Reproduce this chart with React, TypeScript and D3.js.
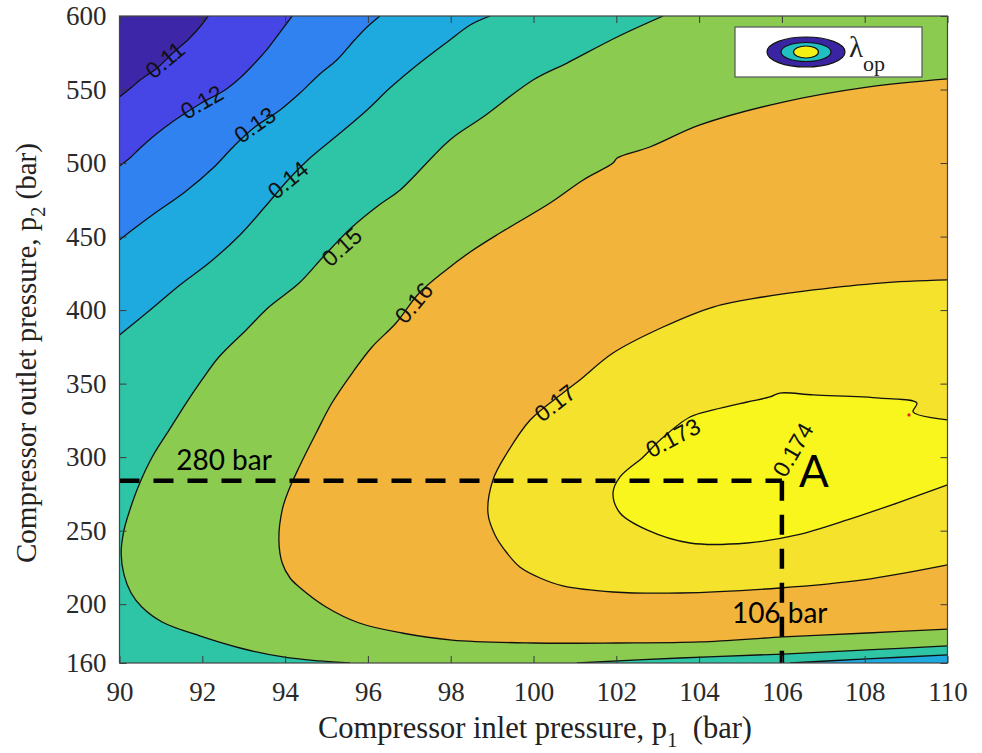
import React, { useEffect, useRef } from "react";
import * as d3 from "d3";

type Pt = [number, number];

// axis ticks
const xTicks = [90, 92, 94, 96, 98, 100, 102, 104, 106, 108, 110];
const yTicks = [160, 200, 250, 300, 350, 400, 450, 500, 550, 600];

// contour levels of lambda_op and the fill of each band (below 0.11, then above each level)
const levels = [0.11, 0.12, 0.13, 0.14, 0.15, 0.16, 0.17, 0.173];
const bandColors = [
  "#3e26a8",
  "#4646e6",
  "#2f82ef",
  "#1eaadf",
  "#2ec4a6",
  "#8bcb50",
  "#f2b43b",
  "#f4e22c",
  "#f8f61c",
];

// contour lines, as [p1 (bar), p2 (bar)]
const c011: Pt[] = [
  [90, 544.9], [90.3, 551.7], [90.5, 556.5], [90.91, 564.6], [91.29, 574.8],
  [91.65, 583.7], [91.94, 592.5], [92.14, 600],
];
const c012: Pt[] = [
  [90, 498], [90.25, 503.4], [90.5, 510.2], [90.86, 519.1], [91.34, 529.3],
  [91.94, 540.2], [92.55, 549.7], [92.91, 557.8], [93.27, 568.0], [93.59, 578.2],
  [93.88, 589.1], [94.17, 600],
];
const c013: Pt[] = [
  [90, 447.7], [90.37, 455.8], [90.86, 466.0], [91.58, 480.3], [92.26, 496.6],
  [92.79, 512.3], [93.27, 524.5], [93.88, 536.1], [94.36, 547.6], [94.84, 560.6],
  [95.25, 570.1], [95.68, 583.7], [95.98, 592.5], [96.29, 600],
];
const c014: Pt[] = [
  [90, 383.1], [90.74, 400.1], [91.46, 417.1], [92.19, 432.7], [92.91, 451.1],
  [93.51, 470.1], [94.07, 488.5], [94.6, 503.4], [95.33, 520.4], [95.98, 536.1],
  [96.53, 551.0], [97.19, 566.7], [97.98, 583.7], [98.47, 593.9], [98.95, 600],
];
const c014Low: Pt[] = [[110, 165.5], [108.06, 162.8], [106.2, 160]];
const c015: Pt[] = [
  [103.13, 600], [102.02, 585.7], [100.81, 568.0], [99.99, 556.5], [98.78, 531.3],
  [97.98, 515.7], [96.78, 481.7], [96.27, 471.5], [95.62, 456.5], [94.96, 437.5],
  [94.34, 418.4], [93.61, 402.1], [93.06, 386.5], [92.4, 368.1], [91.99, 352.5],
  [91.61, 336.8], [91.2, 318.5], [90.79, 300.1], [90.47, 281.1], [90.25, 264.1],
  [90.11, 250.5], [90.04, 234.8], [90.11, 219.9], [90.28, 207.6], [90.54, 198.1],
  [91.03, 187.9], [91.94, 178.4], [92.91, 170.2], [93.95, 164.1], [94.84, 161.4],
  [95.57, 160],
];
const c015Low: Pt[] = [
  [101.05, 160], [103.54, 163.4], [106.03, 166.1], [108.06, 168.9], [110, 171.6],
];
const c016: Pt[] = [
  [110, 557.2], [108.06, 551.7], [106.03, 541.5], [104.02, 525.9], [102.81, 510.9],
  [102.02, 503.4], [101.92, 500.0], [101.2, 488.5], [100.4, 472.8], [99.19, 452.4],
  [98.47, 439.5], [97.89, 427.3], [97.24, 411.6], [96.68, 391.2], [96.1, 374.9],
  [95.62, 357.2], [95.13, 336.8], [94.75, 316.4], [94.34, 293.3], [94.09, 277.7],
  [93.93, 264.1], [93.85, 243.7], [93.93, 228.0], [94.12, 217.8], [94.34, 211.7],
  [94.99, 198.1], [95.79, 187.2], [96.82, 180.4], [98.03, 175.6], [99.99, 173.6],
  [102.02, 173.6], [104.02, 174.3], [106.03, 177.7], [108.06, 180.4], [110, 183.1],
];
const c017: Pt[] = [
  [110, 420.5], [108.37, 418.4], [106.76, 413.7], [105.54, 408.9], [104.34, 402.1],
  [103.13, 388.5], [101.92, 370.8], [101.12, 352.5], [100.71, 343.6], [99.92, 325.3],
  [99.36, 302.8], [99.02, 284.5], [98.9, 262.0], [99.07, 247.1], [99.36, 234.8],
  [99.67, 225.3], [100.16, 217.8], [100.71, 212.4], [101.92, 208.3], [103.54, 207.6],
  [105.95, 211.0], [107.96, 216.5], [110, 226.7],
];
const c0173: Pt[] = [
  [110, 325.3], [109.17, 330.7], [109.26, 336.8], [108.37, 340.2], [106.76, 342.3],
  [105.95, 343.6], [105.71, 340.9], [105.16, 337.5], [104.34, 332.1], [103.78, 327.3],
  [103.06, 311.7], [102.65, 300.1], [102.09, 286.5], [101.92, 275.6], [102.09, 262.0],
  [102.74, 250.5], [103.78, 241.6], [105.16, 241.6], [106.37, 247.1], [107.58, 257.3],
  [108.78, 268.8], [110, 281.1],
];

// inline contour labels (anchor in data units)
const contourLabels = [
  { text: "0.11", p1: 91.1, p2: 570.1, angle: -40 },
  { text: "0.12", p1: 91.99, p2: 541.5, angle: -30 },
  { text: "0.13", p1: 93.27, p2: 525.9, angle: -35 },
  { text: "0.14", p1: 94.07, p2: 488.5, angle: -40 },
  { text: "0.15", p1: 95.37, p2: 442.9, angle: -42 },
  { text: "0.16", p1: 97.11, p2: 404.8, angle: -50 },
  { text: "0.17", p1: 100.52, p2: 336.8, angle: -38 },
  { text: "0.173", p1: 103.37, p2: 313.0, angle: -28 },
  { text: "0.174", p1: 106.27, p2: 304.9, angle: -60 },
];

// design point A
const pointA = { p1: 106, p2: 284 };
const redDot = { p1: 109.07, p2: 328.7 };

const W = 982;
const H = 753;
const margin = { top: 16, right: 34.5, bottom: 90, left: 119.5 };

export default function App() {
  const svgRef = useRef<SVGSVGElement>(null);

  useEffect(() => {
    const svg = d3.select(svgRef.current);
    svg.selectAll("*").remove();

    const x = d3.scaleLinear().domain([90, 110]).range([margin.left, W - margin.right]);
    const y = d3.scaleLinear().domain([160, 600]).range([H - margin.bottom, margin.top]);
    const [x0, x1] = x.range();
    const [y0, y1] = [y(600), y(160)];

    const curve = d3
      .line<Pt>()
      .x((d) => x(d[0]))
      .y((d) => y(d[1]))
      .curve(d3.curveCatmullRom.alpha(0.5));

    // join curve pieces and straight corners into one closed shape
    const shape = (pieces: (Pt[] | Pt)[]) => {
      let s = "";
      pieces.forEach((p, i) => {
        if (Array.isArray(p[0])) {
          const c = curve(p as Pt[]) || "";
          s += i === 0 ? c : "L" + c.slice(1);
        } else {
          const q = p as Pt;
          s += (i === 0 ? "M" : "L") + x(q[0]) + "," + y(q[1]);
        }
      });
      return s + "Z";
    };

    const TR: Pt = [110, 600];
    const BR: Pt = [110, 160];
    const BL: Pt = [90, 160];

    const regions = [
      shape([c011, TR, BR, BL]),
      shape([c012, TR, BR, BL]),
      shape([c013, TR, BR, BL]),
      shape([c014, TR, c014Low, BL]),
      shape([c015, c015Low, TR]),
      shape([c016]),
      shape([c017]),
      shape([c0173]),
    ];

    svg
      .append("defs")
      .append("clipPath")
      .attr("id", "plotClip")
      .append("rect")
      .attr("x", x0)
      .attr("y", y0)
      .attr("width", x1 - x0)
      .attr("height", y1 - y0);

    const plot = svg.append("g").attr("clip-path", "url(#plotClip)");

    plot
      .append("rect")
      .attr("x", x0)
      .attr("y", y0)
      .attr("width", x1 - x0)
      .attr("height", y1 - y0)
      .attr("fill", bandColors[0]);

    plot
      .selectAll("path.band")
      .data(regions)
      .enter()
      .append("path")
      .attr("class", "band")
      .attr("d", (d) => d)
      .attr("fill", (d, i) => bandColors[i + 1]);

    // contour lines
    plot
      .selectAll("path.iso")
      .data([c011, c012, c013, c014, c014Low, c015, c015Low, c016, c017, c0173])
      .enter()
      .append("path")
      .attr("class", "iso")
      .attr("d", (d) => curve(d))
      .attr("fill", "none")
      .attr("stroke", "#111")
      .attr("stroke-width", 1.3);

    plot
      .append("circle")
      .attr("cx", x(redDot.p1))
      .attr("cy", y(redDot.p2))
      .attr("r", 1.6)
      .attr("fill", "#e8202a");

    // contour labels
    plot
      .selectAll("text.lab")
      .data(contourLabels)
      .enter()
      .append("text")
      .attr("class", "lab")
      .attr("transform", (d) => `translate(${x(d.p1)},${y(d.p2)}) rotate(${d.angle})`)
      .attr("text-anchor", "middle")
      .attr("dominant-baseline", "central")
      .style("font-family", "'Liberation Sans', Arial, sans-serif")
      .style("font-size", "23px")
      .attr("fill", "#111")
      .text((d) => d.text);

    // dashed guide lines to point A
    const dash = "20,14";
    plot
      .append("line")
      .attr("x1", x(90))
      .attr("x2", x(pointA.p1))
      .attr("y1", y(pointA.p2))
      .attr("y2", y(pointA.p2))
      .attr("stroke", "#000")
      .attr("stroke-width", 4.5)
      .attr("stroke-dasharray", dash);
    plot
      .append("line")
      .attr("x1", x(pointA.p1))
      .attr("x2", x(pointA.p1))
      .attr("y1", y(pointA.p2))
      .attr("y2", y(160))
      .attr("stroke", "#000")
      .attr("stroke-width", 4.5)
      .attr("stroke-dasharray", dash);

    const note = svg
      .append("g")
      .style("font-family", "Lato, 'Open Sans', sans-serif")
      .attr("fill", "#000");
    note
      .append("text")
      .attr("x", x(91.37))
      .attr("y", y(pointA.p2) - 11)
      .style("font-size", "28px")
      .text("280 bar");
    note
      .append("text")
      .attr("x", x(pointA.p1) - 50)
      .attr("y", y(187))
      .style("font-size", "28px")
      .text("106 bar");
    note
      .append("text")
      .attr("x", x(pointA.p1) + 17)
      .attr("y", y(pointA.p2) + 6)
      .style("font-size", "44px")
      .text("A");

    // axes: inward ticks on all four sides
    const tickLen = 7;
    const serif = "'Liberation Serif', 'Times New Roman', serif";
    const bottom = svg
      .append("g")
      .attr("transform", `translate(0,${y1})`)
      .call(d3.axisBottom(x).tickValues(xTicks).tickSizeInner(-tickLen).tickSizeOuter(0).tickPadding(19).tickFormat(d3.format("d")));
    const left = svg
      .append("g")
      .attr("transform", `translate(${x0},0)`)
      .call(d3.axisLeft(y).tickValues(yTicks).tickSizeInner(-tickLen).tickSizeOuter(0).tickPadding(13).tickFormat(d3.format("d")));
    const top = svg
      .append("g")
      .attr("transform", `translate(0,${y0})`)
      .call(d3.axisTop(x).tickValues(xTicks).tickSizeInner(-tickLen).tickSizeOuter(0).tickFormat(() => ""));
    const right = svg
      .append("g")
      .attr("transform", `translate(${x1},0)`)
      .call(d3.axisRight(y).tickValues(yTicks).tickSizeInner(-tickLen).tickSizeOuter(0).tickFormat(() => ""));

    [bottom, left, top, right].forEach((g) => {
      g.select(".domain").remove();
      g.selectAll("line").attr("stroke", "#3a3a3a");
      g.selectAll("text")
        .style("font-family", serif)
        .style("font-size", "27px")
        .attr("fill", "#2a2a2a");
    });

    svg
      .append("rect")
      .attr("x", x0)
      .attr("y", y0)
      .attr("width", x1 - x0)
      .attr("height", y1 - y0)
      .attr("fill", "none")
      .attr("stroke", "#444")
      .attr("stroke-width", 1.2);

    // axis titles
    const xt = svg
      .append("text")
      .attr("x", 318)
      .attr("y", 738)
      .style("font-family", serif)
      .style("font-size", "30.5px")
      .attr("fill", "#222");
    xt.append("tspan").text("Compressor inlet pressure, p");
    xt.append("tspan").attr("dy", 9).style("font-size", "21px").text("1");
    xt.append("tspan").attr("dy", -9).text("\u00a0 (bar)");

    const yt = svg
      .append("text")
      .attr("transform", "translate(36,563) rotate(-90)")
      .style("font-family", serif)
      .style("font-size", "29px")
      .attr("fill", "#222");
    yt.append("tspan").text("Compressor outlet pressure, p");
    yt.append("tspan").attr("dy", 9).style("font-size", "20px").text("2");
    yt.append("tspan").attr("dy", -9).text("\u00a0(bar)");

    // legend
    const lg = svg.append("g");
    lg.append("rect")
      .attr("x", 735)
      .attr("y", 27)
      .attr("width", 187)
      .attr("height", 50)
      .attr("fill", "#fff")
      .attr("stroke", "#555")
      .attr("stroke-width", 1.2);
    const rings = [
      { rx: 39, ry: 15, fill: "#3a24a2" },
      { rx: 25, ry: 9.5, fill: "#1fbfc2" },
      { rx: 12.5, ry: 6, fill: "#f2f014" },
    ];
    lg.selectAll("ellipse")
      .data(rings)
      .enter()
      .append("ellipse")
      .attr("cx", 806)
      .attr("cy", 52)
      .attr("rx", (d) => d.rx)
      .attr("ry", (d) => d.ry)
      .attr("fill", (d) => d.fill)
      .attr("stroke", "#111")
      .attr("stroke-width", 1.2);
    const lt = lg
      .append("text")
      .attr("x", 849)
      .attr("y", 57)
      .style("font-family", serif)
      .style("font-size", "29px")
      .attr("fill", "#222");
    lt.append("tspan").text("\u03bb");
    lt.append("tspan").attr("dy", 14).style("font-size", "22px").text("op");
  }, []);

  return (
    <div style={{ position: "absolute", left: 0, top: 0 }}>
      <svg ref={svgRef} width={W} height={H} style={{ display: "block", background: "#fff" }} />
    </div>
  );
}
